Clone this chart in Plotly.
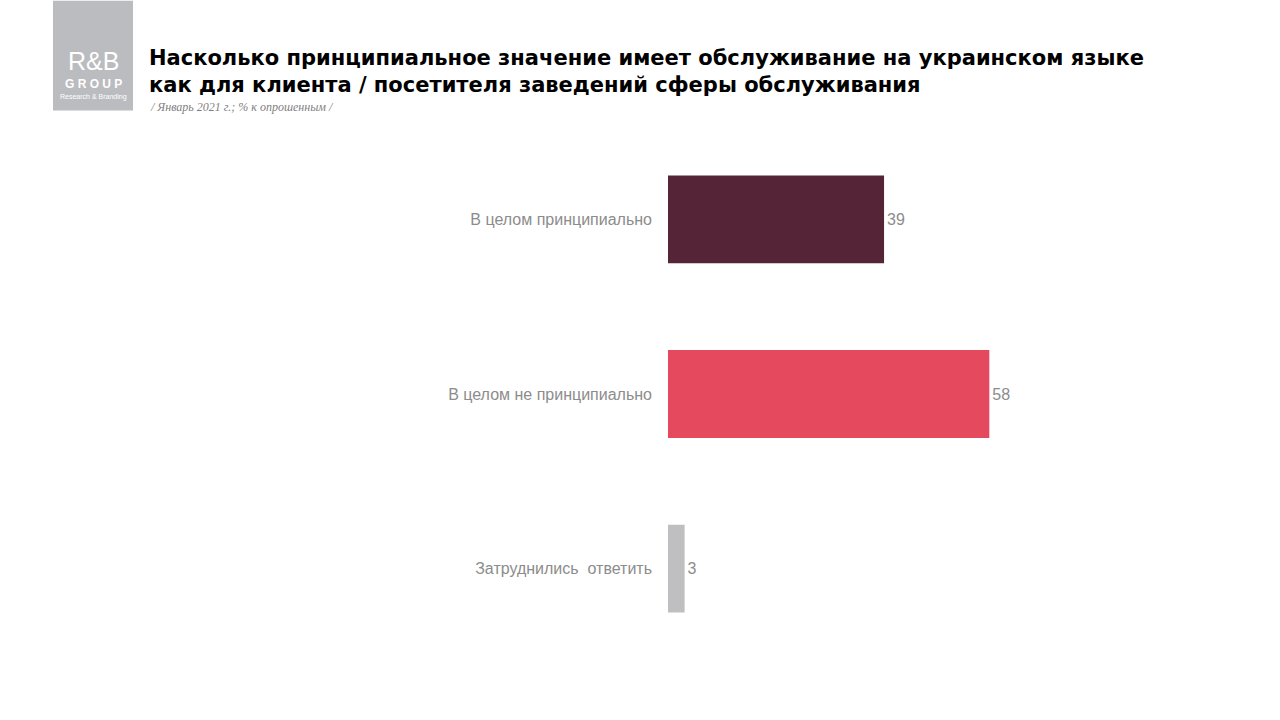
import plotly.graph_objects as go

categories = ["В целом принципиально", "В целом не принципиально", "Затруднились  ответить"]
values = [39, 58, 3]
colors = ["#552437", "#E5495E", "#BFBFC1"]

title_lines = ["Насколько принципиальное значение имеет обслуживание на украинском языке",
               "как для клиента / посетителя заведений сферы обслуживания"]
subtitle = "/ Январь 2021 г.; % к опрошенным /"

fig = go.Figure(go.Bar(
    x=values, y=categories, orientation="h",
    marker=dict(color=colors, line=dict(width=0)),
    width=0.503,
    text=[str(v) for v in values], textposition="outside",
    textfont=dict(family="Liberation Sans", size=16, color="#8C8C8C"),
    cliponaxis=False,
))

fig.update_layout(
    width=1280, height=720,
    paper_bgcolor="white", plot_bgcolor="white",
    margin=dict(l=668, r=58, t=131.5, b=63.5, autoexpand=False),
    showlegend=False,
    xaxis=dict(range=[0, 100], visible=False),
    yaxis=dict(categoryorder="array", categoryarray=categories[::-1],
               range=[-0.5, 2.5], showgrid=False, zeroline=False, showline=False,
               ticks="", ticklabelstandoff=15,
               tickfont=dict(family="Liberation Sans Narrow, Liberation Sans", size=16, color="#8C8C8C")),
)


def px_x(x):
    return (x - 668) / 554


def px_y(y):
    return (656.5 - y) / 525


# logo block
fig.add_shape(type="rect", xref="paper", yref="paper",
              x0=px_x(53), x1=px_x(133), y0=px_y(110), y1=px_y(0),
              fillcolor="#BBBCC0", line=dict(width=0), layer="below")

fig.add_annotation(xref="paper", yref="paper", x=px_x(93), y=px_y(60), text="R&amp;B",
                   showarrow=False, xanchor="center", yanchor="middle",
                   font=dict(family="Liberation Sans", size=25, color="white"))
fig.add_annotation(xref="paper", yref="paper", x=px_x(93.5), y=px_y(83.5), text="G R O U P",
                   showarrow=False, xanchor="center", yanchor="middle",
                   font=dict(family="Liberation Sans", size=12, color="white", weight="bold"))
fig.add_annotation(xref="paper", yref="paper", x=px_x(93.5), y=px_y(96.5), text="Research &amp; Branding",
                   showarrow=False, xanchor="center", yanchor="middle",
                   font=dict(family="Liberation Sans", size=7, color="white"))

fig.add_annotation(xref="paper", yref="paper", x=px_x(147), y=px_y(70.5), text="<br>".join(title_lines),
                   showarrow=False, xanchor="left", yanchor="middle", align="left",
                   font=dict(family="DejaVu Sans", size=21, color="black", weight="bold"))
fig.add_annotation(xref="paper", yref="paper", x=px_x(148), y=px_y(106), text=subtitle,
                   showarrow=False, xanchor="left", yanchor="middle", align="left",
                   font=dict(family="Liberation Serif", size=12, color="#7F7F7F", style="italic"))

fig.write_html("out.html", config={"displayModeBar": False},
               post_script="document.body.style.margin='0';")
